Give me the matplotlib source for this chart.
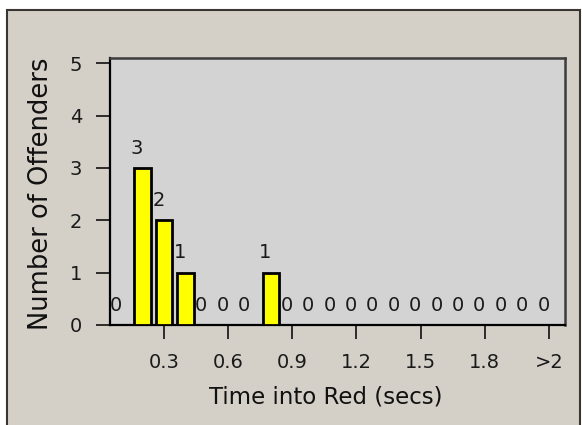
import matplotlib
matplotlib.use("Agg")
import matplotlib.pyplot as plt
from matplotlib.patches import Rectangle

# Data
bins = ['0.1', '0.2', '0.3', '0.4', '0.5', '0.6', '0.7', '0.8', '0.9', '1.0',
        '1.1', '1.2', '1.3', '1.4', '1.5', '1.6', '1.7', '1.8', '1.9', '2.0', '>2']
counts = [0, 3, 2, 1, 0, 0, 0, 1, 0, 0, 0, 0, 0, 0, 0, 0, 0, 0, 0, 0, 0]
tick_labels = ['0.3', '0.6', '0.9', '1.2', '1.5', '1.8', '>2']
y_ticks = [0, 1, 2, 3, 4, 5]
x_title = 'Time into Red (secs)'
y_title = 'Number of Offenders'

W, H = 582, 425
fig = plt.figure(figsize=(W / 100, H / 100), dpi=100, facecolor='white')
plt.rcParams['font.family'] = ['DejaVu Sans']

# outer panel
panel = Rectangle((7 / W, -0.01), (580 - 7) / W, 1 - 10 / H + 0.01,
                  transform=fig.transFigure, facecolor='#d4d0c8',
                  edgecolor='#3a3530', linewidth=1.5)
panel.set_zorder(-5)
fig.add_artist(panel)

ax = fig.add_axes([110 / W, 1 - 325 / H, (565 - 110) / W, (325 - 58) / H])
ax.set_zorder(1)
ax.set_facecolor('#d3d3d3')

x = list(range(1, len(bins) + 1))
ax.bar(x, counts, width=0.77, color='#ffff00', edgecolor='black', linewidth=2.0, zorder=3)

for xi, c in zip(x, counts):
    ax.annotate(str(c), (xi, c), xytext=(-4, 7.5), textcoords='offset points',
                ha='center', va='bottom', fontsize=14, color='#1a1a1a', zorder=4,
                annotation_clip=False)

ax.set_xlim(0.475, 21.75)
ax.set_ylim(0, 5.1)

tick_pos = [x[bins.index(t)] for t in tick_labels]
ax.set_xticks(tick_pos)
ax.set_xticklabels(tick_labels)
ax.set_yticks(y_ticks)

ax.tick_params(axis='both', direction='out', length=10, width=1.1, color='black',
               labelsize=14, labelcolor='#1a1a1a')
ax.tick_params(axis='x', pad=10)
ax.tick_params(axis='y', pad=10)

for s in ['left', 'bottom']:
    ax.spines[s].set_color('black')
    ax.spines[s].set_linewidth(1.6)
for s in ['top', 'right']:
    ax.spines[s].set_color('#3c3c3c')
    ax.spines[s].set_linewidth(1.8)

fig.text(326 / W, 1 - 397 / H, x_title, ha='center', va='center', fontsize=16.5, color='#111111')
fig.text(41 / W, 1 - 194 / H, y_title, ha='center', va='center', rotation=90,
         fontsize=18.5, color='#111111')

fig.savefig('out.png', dpi=100, facecolor=fig.get_facecolor())
